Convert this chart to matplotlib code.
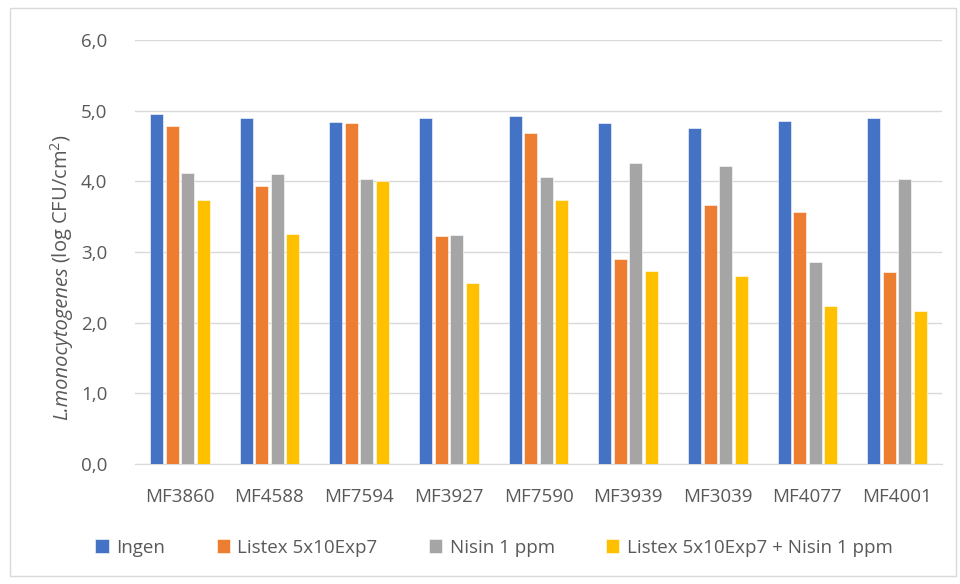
import numpy as np
import matplotlib
matplotlib.use("Agg")
import matplotlib.pyplot as plt
from matplotlib.patches import Rectangle

plt.rcParams.update({
    "font.family": ["Open Sans", "DejaVu Sans"],
    "mathtext.fontset": "custom",
    "mathtext.rm": "Open Sans",
})

# ── data ──────────────────────────────────────────────────────────────────────
strains = ["MF3860", "MF4588", "MF7594", "MF3927", "MF7590",
           "MF3939", "MF3039", "MF4077", "MF4001"]
ingen        = [4.95, 4.90, 4.84, 4.90, 4.92, 4.83, 4.75, 4.86, 4.90]
listex       = [4.79, 3.93, 4.83, 3.22, 4.68, 2.90, 3.66, 3.57, 2.71]
nisin        = [4.12, 4.10, 4.04, 3.24, 4.06, 4.26, 4.21, 2.86, 4.04]
listex_nisin = [3.73, 3.26, 4.01, 2.56, 3.73, 2.73, 2.66, 2.23, 2.17]

labels = ["Ingen", "Listex 5x10Exp7", "Nisin 1 ppm",
          "Listex 5x10Exp7 + Nisin 1 ppm"]
colors = ["#4472C4", "#ED7D31", "#A5A5A5", "#FFC000"]
txt = "#595959"
FS = 13.5

fig = plt.figure(figsize=(9.6, 5.84), dpi=100)
ax = fig.add_axes([135 / 960, 1 - 464 / 584, 807 / 960, 424 / 584])

# outer chart border
fig.patches.append(Rectangle((10 / 960, 8 / 584), 946 / 960, 568 / 584,
                             transform=fig.transFigure, fill=False,
                             ec="#D9D9D9", lw=1))

x = np.arange(len(strains))
slot, bw = 0.1725, 0.145
for i, (vals, lab, c) in enumerate(zip([ingen, listex, nisin, listex_nisin],
                                       labels, colors)):
    ax.bar(x + (i - 1.5) * slot, vals, width=bw, color=c, label=lab,
           zorder=3, edgecolor="white", linewidth=0.4)

ax.set_xlim(-0.5, len(strains) - 0.5)
ax.set_ylim(0, 6)
yt = np.arange(0, 6.1, 1.0)
ax.set_yticks(yt)
ax.set_yticklabels([f"{v:.1f}".replace(".", ",") for v in yt])
ax.set_xticks(x)
ax.set_xticklabels(strains)
ax.tick_params(axis="both", length=0, labelsize=FS, colors=txt)
ax.tick_params(axis="x", pad=17)
ax.tick_params(axis="y", pad=20)
ax.grid(axis="y", color="#D9D9D9", lw=1, zorder=0)
for s in ["top", "right", "left"]:
    ax.spines[s].set_visible(False)
ax.spines["bottom"].set_color("#D9D9D9")

# y label: italic species name + upright unit, stacked along the axis
t1 = fig.text(62 / 960, 1 - 420 / 584, "L.monocytogenes", rotation=90,
              style="italic", fontsize=14.5, color=txt, ha="center", va="bottom")
fig.canvas.draw()
bb = t1.get_window_extent().transformed(fig.transFigure.inverted())
fig.text(62 / 960, bb.y1 + 3 / 584, r"(log CFU/cm$^2$)", rotation=90,
         fontsize=14.5, color=txt, ha="center", va="bottom")

ax.legend(loc="center", bbox_to_anchor=(0.445, -0.197), ncol=4,
          frameon=False, fontsize=FS, labelcolor=txt,
          handlelength=0.7, handleheight=0.7, handletextpad=0.4,
          columnspacing=2.75)

fig.savefig("out.png", dpi=100)
